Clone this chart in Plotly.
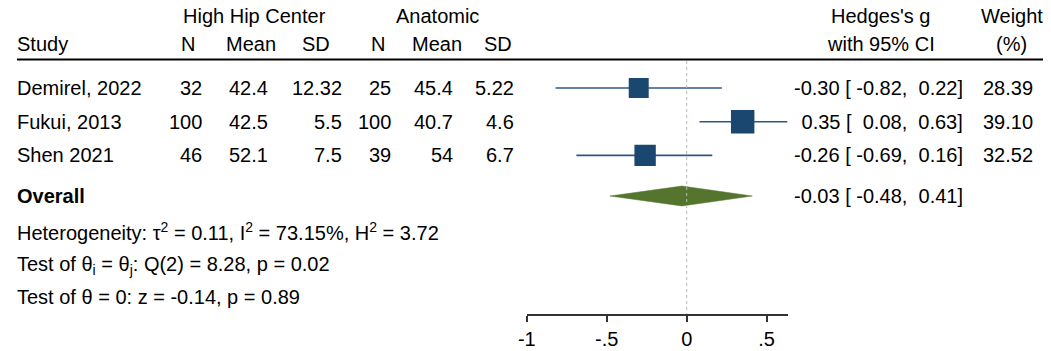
import math
import plotly.graph_objects as go

# ---------------- data ----------------
studies = ["Demirel, 2022", "Fukui, 2013", "Shen 2021"]
hhc_n = [32, 100, 46]
hhc_mean = [42.4, 42.5, 52.1]
hhc_sd = [12.32, 5.5, 7.5]
ana_n = [25, 100, 39]
ana_mean = [45.4, 40.7, 54]
ana_sd = [5.22, 4.6, 6.7]
hedges_g = [-0.30, 0.35, -0.26]
ci_low = [-0.82, 0.08, -0.69]
ci_high = [0.22, 0.63, 0.16]
weights = [28.39, 39.10, 32.52]
overall_g = -0.03
overall_low = -0.48
overall_high = 0.41
x_ticks = [-1, -0.5, 0, 0.5]
x_tick_labels = ["-1", "-.5", "0", ".5"]
group_headers = ["High Hip Center", "Anatomic"]
col_headers = ["N", "Mean", "SD", "N", "Mean", "SD"]
het_line = "Heterogeneity: τ<sup>2</sup> = 0.11, I<sup>2</sup> = 73.15%, H<sup>2</sup> = 3.72"
test1_line = "Test of θ<sub>i</sub> = θ<sub>j</sub>: Q(2) = 8.28, p = 0.02"
test2_line = "Test of θ = 0: z = -0.14, p = 0.89"

# ---------------- layout geometry (target picture pixels) ----------------
PAGE_W, PAGE_H = 1051, 351
X0, XS = 15.9, 0.992        # observed picture offset / scale of the figure, horizontally
Y0 = 8                       # observed vertical offset (page margin)
W, H = 1043, 343
ROW_PX = 33.7
FIRST_ROW_PX = 88
AXIS_PX = 314
FONT = "Liberation Sans, Arial, sans-serif"
FS = 20
NAVY = "#1a476f"
GREEN = "#55752f"
NBSP = "\u00a0"


def ypx(px):
    return 1 + (px - FIRST_ROW_PX) / ROW_PX


def xp(px):
    return max(0.0, (px - X0) / XS) / W


rows = [1 + i for i in range(len(studies))]
y_overall = ypx(196)

fig = go.Figure()

# CI lines
lx, ly = [], []
for lo, hi, y in zip(ci_low, ci_high, rows):
    lx += [lo, hi, None]
    ly += [y, y, None]
fig.add_trace(go.Scatter(x=lx, y=ly, mode="lines",
                         line=dict(color="#2c5882", width=1.6),
                         hoverinfo="skip", showlegend=False))
# squares (area proportional to weight)
fig.add_trace(go.Scatter(x=hedges_g, y=rows, mode="markers",
                         marker=dict(symbol="square", color=NAVY, opacity=1,
                                     size=[3.75 * math.sqrt(w) for w in weights],
                                     line=dict(width=0)),
                         showlegend=False))
# overall diamond
dh = 10 / ROW_PX
fig.add_trace(go.Scatter(x=[overall_low, overall_g, overall_high, overall_g, overall_low],
                         y=[y_overall, y_overall - dh, y_overall, y_overall + dh, y_overall],
                         mode="lines", fill="toself", fillcolor=GREEN,
                         line=dict(color=GREEN, width=0.5), showlegend=False))

ann = []


def add(text, xpx, y, anchor="left", bold=False):
    ann.append(dict(text=("<b>%s</b>" % text) if bold else text,
                    x=xp(xpx), xref="paper", y=y, yref="y",
                    xanchor=anchor, yanchor="middle", showarrow=False,
                    borderpad=0, borderwidth=0,
                    font=dict(family=FONT, size=FS, color="black")))


def ci_text(g, lo, hi):
    s = f"{g:5.2f} [{lo:6.2f}, {hi:5.2f}]"
    return s.replace(" ", NBSP)


# headers
y_h1, y_h2 = ypx(16), ypx(43.5)
add(group_headers[0], 254, y_h1, "center")
add(group_headers[1], 437, y_h1, "center")
add("Study", 15, y_h2)
hdr_centers = [187, 250, 315, 377, 436, 497]
for t, cx in zip(col_headers, hdr_centers):
    add(t, cx, y_h2, "center")
add("Hedges's g", 880, y_h1, "center")
add("with 95% CI", 880, y_h2, "center")
add("Weight", 1012, y_h1, "center")
add("(%)", 1011, y_h2, "center")

# study rows
col_right = [201, 267, 341, 390, 452, 513]
for i, y in enumerate(rows):
    add(studies[i], 15, y)
    vals = [hhc_n[i], hhc_mean[i], hhc_sd[i], ana_n[i], ana_mean[i], ana_sd[i]]
    for v, rx in zip(vals, col_right):
        add(f"{v:g}", rx, y, "right")
    add(ci_text(hedges_g[i], ci_low[i], ci_high[i]), 963, y, "right")
    add(f"{weights[i]:.2f}", 1033, y, "right")

# overall
add("Overall", 15, y_overall, bold=True)
add(ci_text(overall_g, overall_low, overall_high), 963, y_overall, "right")

add(het_line, 15, ypx(231))
add(test1_line, 15, ypx(265))
add(test2_line, 15, ypx(297))

shapes = [
    dict(type="line", xref="paper", yref="y", x0=0, x1=1,
         y0=ypx(59.5), y1=ypx(59.5), line=dict(color="black", width=2)),
    dict(type="line", xref="x", yref="y", x0=0, x1=0,
         y0=ypx(61), y1=ypx(AXIS_PX), line=dict(color="#b8b8b8", width=1, dash="dot")),
]

fig.update_layout(
    width=W, height=H,
    margin=dict(l=0, r=0, t=0, b=(Y0 + H) - AXIS_PX, pad=0),
    paper_bgcolor="white", plot_bgcolor="white",
    annotations=ann, shapes=shapes,
    xaxis=dict(domain=[xp(526), xp(787)], range=[-1, 0.631],
               tickvals=x_ticks, ticktext=x_tick_labels,
               showline=True, linecolor="#333333", linewidth=1.5,
               ticks="outside", ticklen=6, tickwidth=1.5, tickcolor="#333333",
               showgrid=False, zeroline=False,
               tickfont=dict(family=FONT, size=FS, color="black")),
    yaxis=dict(range=[ypx(AXIS_PX), ypx(Y0)], visible=False,
               showgrid=False, zeroline=False),
    showlegend=False,
)

fig.write_html("out.html")
